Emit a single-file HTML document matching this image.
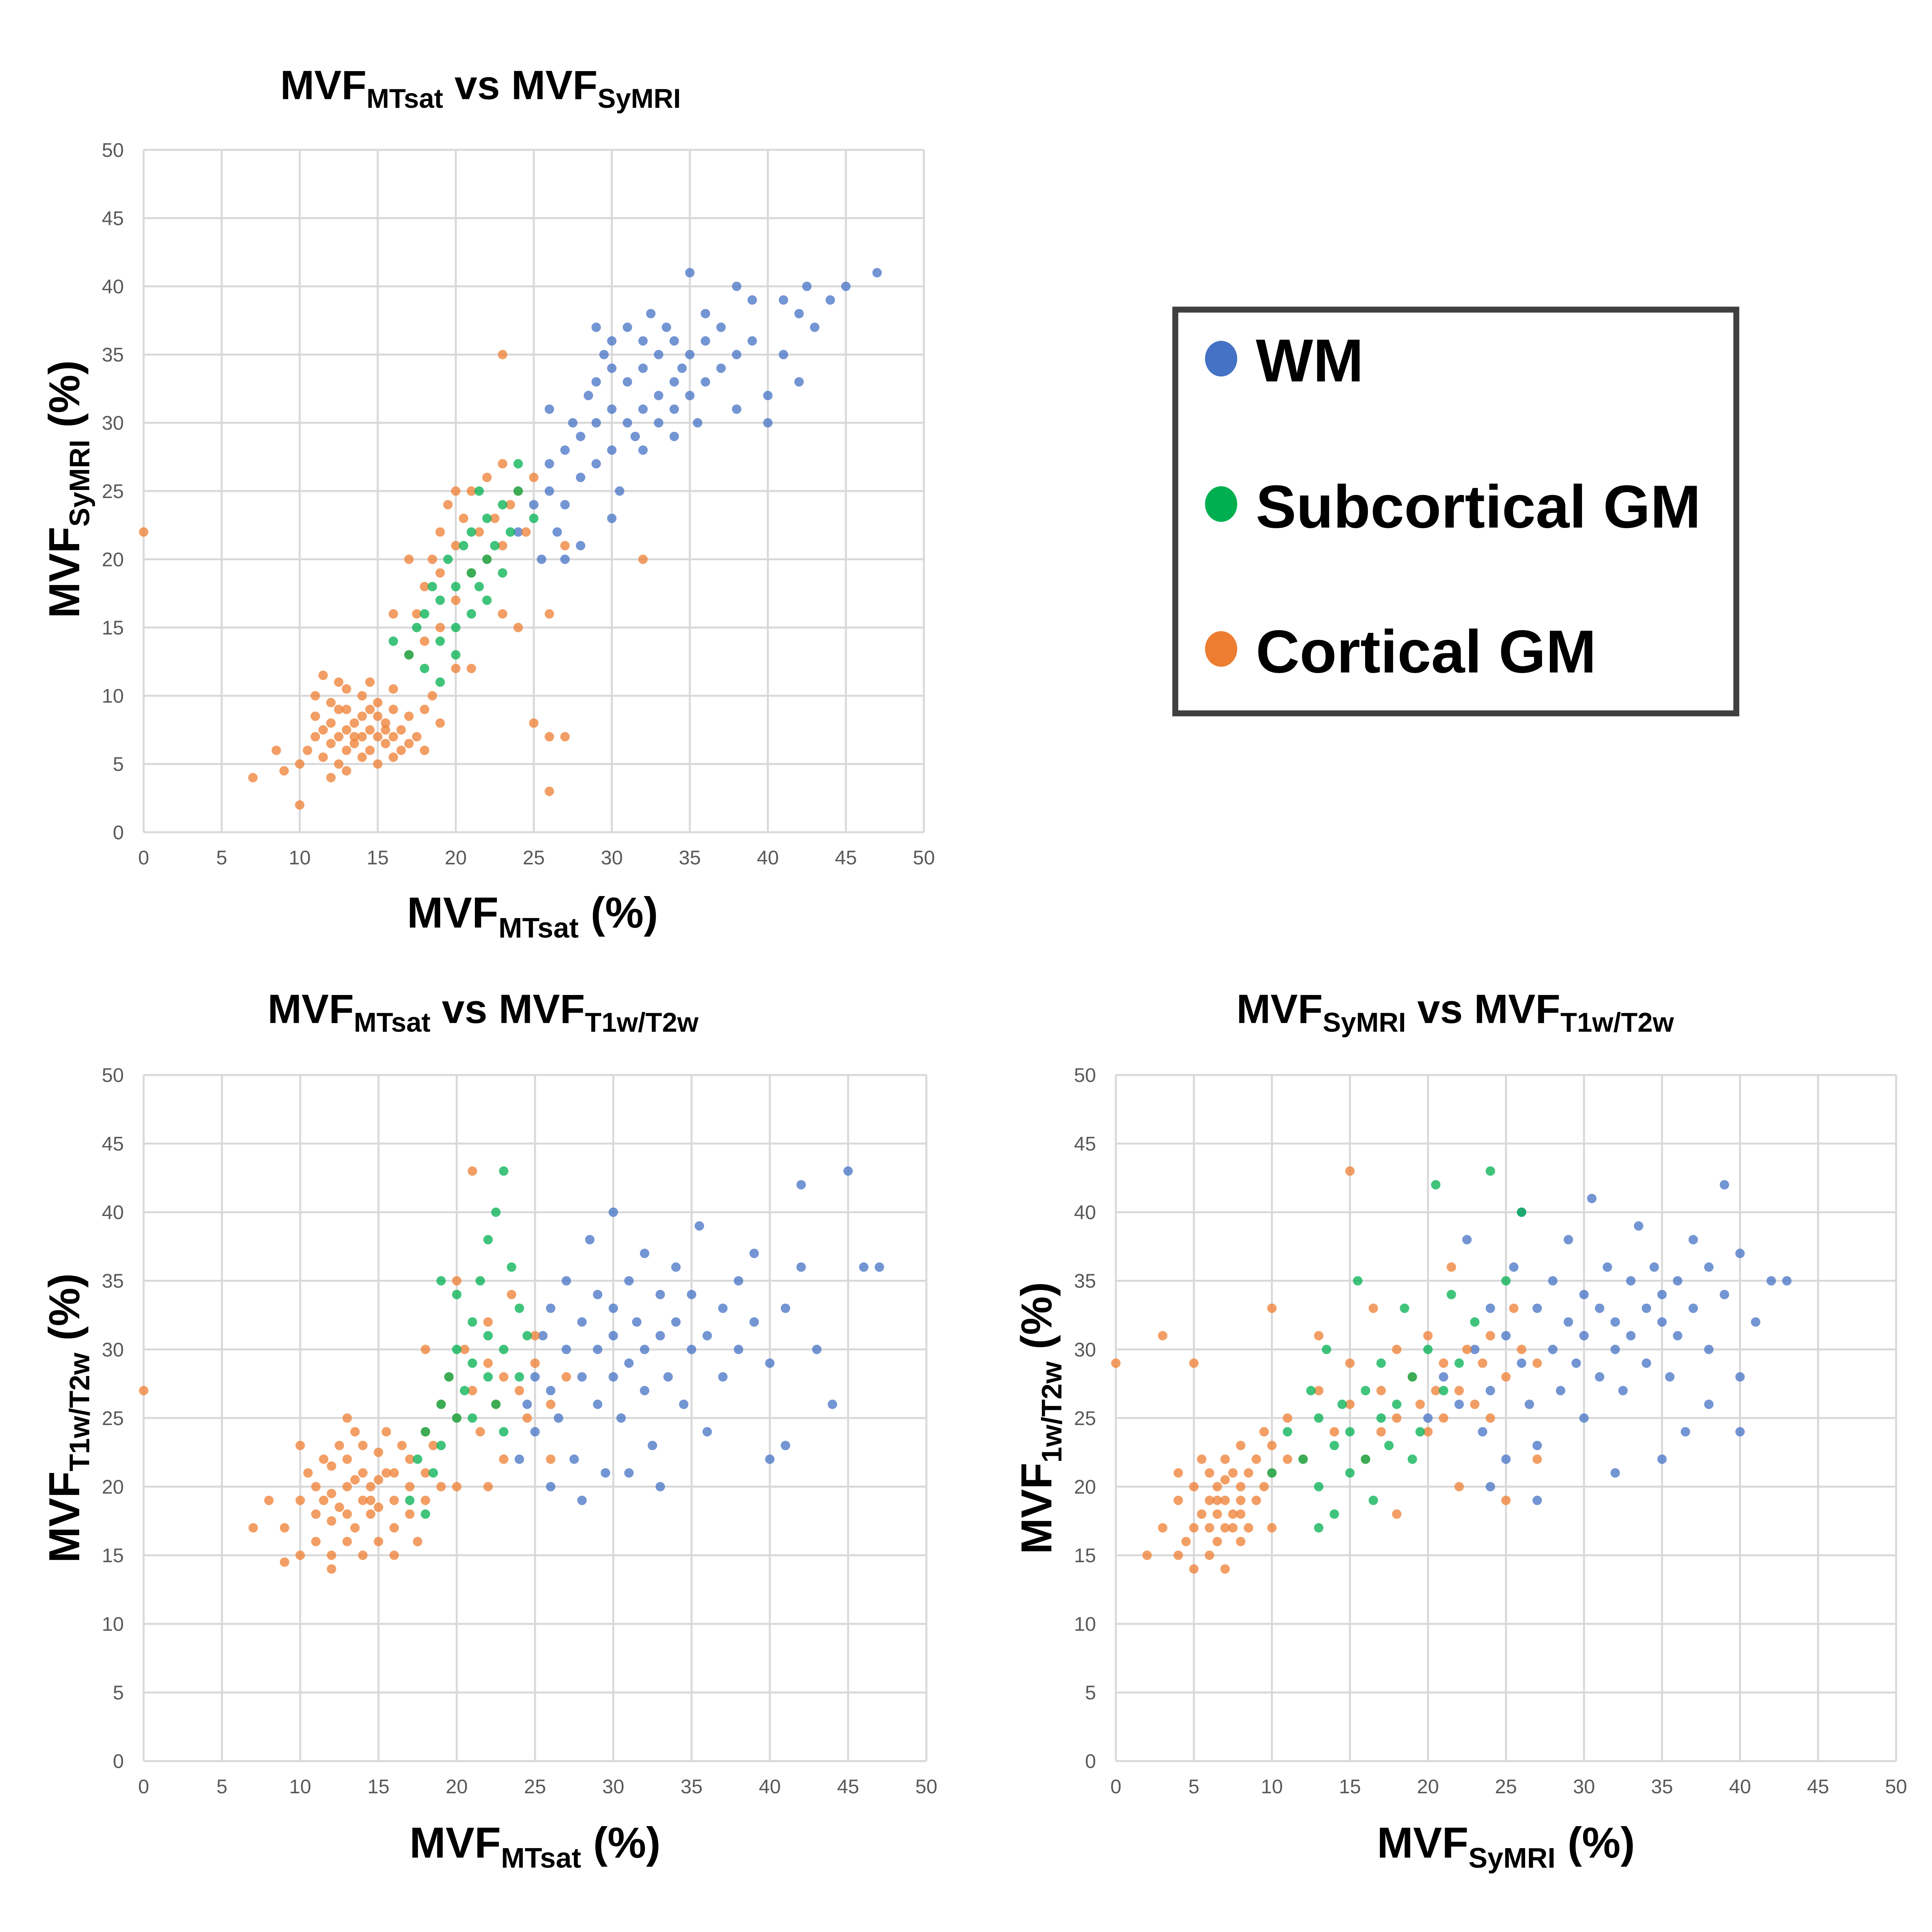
<!DOCTYPE html>
<html><head><meta charset="utf-8"><style>
html,body{margin:0;padding:0;background:#fff;width:100%;height:100%;overflow:hidden;}
svg{display:block;font-family:"Liberation Sans",sans-serif;width:100vw;height:100vh;}
.tick{font-size:80px;fill:#595959;}
.ttl{font-size:165px;font-weight:bold;fill:#000;}
.sub{font-size:110px;}
</style></head><body>
<svg id="fig" viewBox="0 0 7800 7800" preserveAspectRatio="none">
<g id="c1"></g>
<g id="c2"></g>
<g id="c3"></g>

<text class="ttl" x="1940" y="400" text-anchor="middle">MVF<tspan class="sub" dy="35">MTsat</tspan><tspan dy="-35"> vs MVF</tspan><tspan class="sub" dy="35">SyMRI</tspan></text>
<text class="ttl" x="1950" y="4130" text-anchor="middle">MVF<tspan class="sub" dy="35">MTsat</tspan><tspan dy="-35"> vs MVF</tspan><tspan class="sub" dy="35">T1w/T2w</tspan></text>
<text class="ttl" x="5875" y="4130" text-anchor="middle">MVF<tspan class="sub" dy="35">SyMRI</tspan><tspan dy="-35"> vs MVF</tspan><tspan class="sub" dy="35">T1w/T2w</tspan></text>

<text class="ttl" x="2150" y="3745" text-anchor="middle" style="font-size:175px">MVF<tspan class="sub" dy="40" style="font-size:115px">MTsat</tspan><tspan dy="-40"> (%)</tspan></text>
<text class="ttl" x="2160" y="7500" text-anchor="middle" style="font-size:175px">MVF<tspan class="sub" dy="40" style="font-size:115px">MTsat</tspan><tspan dy="-40"> (%)</tspan></text>
<text class="ttl" x="6080" y="7500" text-anchor="middle" style="font-size:175px">MVF<tspan class="sub" dy="40" style="font-size:115px">SyMRI</tspan><tspan dy="-40"> (%)</tspan></text>

<text class="ttl" transform="translate(320,1975) rotate(-90)" text-anchor="middle" style="font-size:175px">MVF<tspan class="sub" dy="40" style="font-size:115px">SyMRI</tspan><tspan dy="-40"> (%)</tspan></text>
<text class="ttl" transform="translate(320,5725) rotate(-90)" text-anchor="middle" style="font-size:175px">MVF<tspan class="sub" dy="40" style="font-size:115px">T1w/T2w</tspan><tspan dy="-40"> (%)</tspan></text>
<text class="ttl" transform="translate(4245,5725) rotate(-90)" text-anchor="middle" style="font-size:175px">MVF<tspan class="sub" dy="40" style="font-size:115px">1w/T2w</tspan><tspan dy="-40"> (%)</tspan></text>

<g>
<rect x="4745" y="1250" width="2265" height="1630" fill="#fff" stroke="#404040" stroke-width="24"/>
<g><ellipse cx="4930" cy="1448" rx="65" ry="72" fill="#4472C4"/><text x="5070" y="1540" style="font-size:245px;font-weight:bold">WM</text></g>
<g><ellipse cx="4930" cy="2035" rx="65" ry="72" fill="#00B050"/><text x="5070" y="2130" style="font-size:245px;font-weight:bold">Subcortical GM</text></g>
<g><ellipse cx="4930" cy="2620" rx="65" ry="72" fill="#ED7D31"/><text x="5070" y="2715" style="font-size:245px;font-weight:bold">Cortical GM</text></g>
</g>
</svg>
<script>
const ticks=[0,5,10,15,20,25,30,35,40,45,50];
// Plot 1: MTsat (x) vs SyMRI (y)
const p1Cortical=[[10,5],[10.5,6],[11,7],[11,8.5],[11.5,5.5],[12,6.5],[12,8],[12,9.5],[12.5,7],[12.5,5],[13,6],[13,7.5],[13,9],[13,10.5],[13.5,8],[13.5,6.5],[14,5.5],[14,7],[14,8.5],[14,10],[14.5,7.5],[14.5,6],[15,5],[15,7],[15,8.5],[15,9.5],[15.5,6.5],[15.5,8],[16,5.5],[16,7],[16,9],[16.5,7.5],[17,6.5],[17,8.5],[17.5,7],[18,9],[18,6],[11,10],[9,4.5],[8.5,6],[12,4],[10,2],[7,4],[11.5,11.5],[13,4.5],[16,10.5],[19,8],[18.5,10],[14.5,11],[12.5,11],[12.5,9],[13.5,7],[14.5,9],[15.5,7.5],[16.5,6],[11.5,7.5],[17,13],[17.5,16],[18,18],[18.5,20],[19,22],[19.5,24],[20,21],[20,17],[20.5,23],[21,25],[21,19],[21.5,22],[22,26],[22,20],[22.5,23],[23,27],[23,21],[23.5,24],[24,25],[24.5,22],[25,26],[18,14],[19,15],[19,19],[20,25],[16,16],[17,20],[23,35],[25,8],[26,7],[26,3],[27,7],[32,20],[27,21],[21,12],[0,22],[23,16],[20,12],[26,16],[24,15]];
const p1Subcortical=[[16,14],[17,13],[17.5,15],[18,12],[18,16],[18.5,18],[19,14],[19,17],[19.5,20],[20,15],[20,18],[20.5,21],[21,16],[21,19],[21,22],[21.5,18],[22,20],[22,23],[22.5,21],[23,24],[23,19],[23.5,22],[24,25],[24,27],[20,13],[22,17],[19,11],[25,23],[21.5,25]];
const p1WM=[[24,22],[25,24],[25.5,20],[26,25],[26,27],[26.5,22],[27,28],[27,24],[27.5,30],[28,26],[28,29],[28.5,32],[29,27],[29,30],[29,33],[29.5,35],[30,28],[30,31],[30,34],[30,36],[30.5,25],[31,30],[31,33],[31,37],[31.5,29],[32,31],[32,34],[32,36],[32.5,38],[33,30],[33,32],[33,35],[33.5,37],[34,31],[34,33],[34,36],[34.5,34],[35,32],[35,35],[35.5,30],[36,33],[36,36],[37,34],[37,37],[38,35],[38,31],[39,36],[40,32],[40,30],[41,39],[42,38],[42.5,40],[43,37],[44,39],[45,40],[47,41],[42,33],[39,39],[36,38],[35,41],[28,21],[27,20],[30,23],[29,37],[32,28],[34,29],[38,40],[41,35],[26,31]];
// Plot 2: MTsat (x) vs T1w/T2w (y)
const p2Cortical=[[9,17],[10,15],[10,19],[10.5,21],[11,16],[11,18],[11,20],[11.5,22],[12,15],[12,17.5],[12,19.5],[12,21.5],[12.5,23],[13,16],[13,18],[13,20],[13,22],[13.5,24],[13.5,17],[14,15],[14,19],[14,21],[14,23],[14.5,18],[14.5,20],[15,16],[15,18.5],[15,20.5],[15,22.5],[15.5,24],[16,17],[16,19],[16,21],[16.5,23],[17,18],[17,20],[17,22],[17.5,16],[18,19],[18,21],[18.5,23],[19,20],[10,23],[9,14.5],[12,14],[16,15],[13,25],[7,17],[8,19],[12.5,18.5],[13.5,20.5],[14.5,19],[15.5,21],[11.5,19],[18,24],[19,26],[19.5,28],[20,25],[20.5,30],[21,27],[21.5,24],[22,29],[22,32],[22.5,26],[23,28],[23.5,34],[24,27],[24.5,25],[25,29],[25,31],[26,26],[27,28],[20,35],[21,43],[23,22],[0,27],[20,20],[22,20],[26,22],[18,30]];
const p2Subcortical=[[17,19],[17.5,22],[18,24],[18.5,21],[19,26],[19,23],[19.5,28],[20,25],[20,30],[20.5,27],[21,32],[21,29],[21,25],[21.5,35],[22,28],[22,31],[22.5,40],[22.5,26],[23,43],[23,30],[23.5,36],[24,28],[24,33],[24.5,31],[20,34],[19,35],[22,38],[18,18],[23,24]];
const p2WM=[[24,22],[24.5,26],[25,28],[25,24],[25.5,31],[26,27],[26,33],[26.5,25],[27,30],[27,35],[27.5,22],[28,28],[28,32],[28.5,38],[29,26],[29,30],[29,34],[29.5,21],[30,28],[30,31],[30,33],[30,40],[30.5,25],[31,29],[31,35],[31.5,32],[32,27],[32,30],[32,37],[32.5,23],[33,31],[33,34],[33.5,28],[34,32],[34,36],[34.5,26],[35,30],[35,34],[35.5,39],[36,31],[36,24],[37,33],[37,28],[38,35],[38,30],[39,37],[39,32],[40,29],[40,22],[41,33],[42,42],[42,36],[43,30],[44,26],[45,43],[46,36],[47,36],[28,19],[31,21],[33,20],[41,23],[26,20]];
// Plot 3: SyMRI (x) vs T1w/T2w (y)
const p3Cortical=[[3,17],[4,15],[4,19],[4.5,16],[5,14],[5,17],[5,20],[5.5,18],[5.5,22],[6,15],[6,17],[6,19],[6,21],[6.5,16],[6.5,18],[6.5,20],[7,14],[7,17],[7,19],[7,22],[7.5,18],[7.5,21],[8,16],[8,19],[8,20],[8,23],[8.5,17],[8.5,21],[9,19],[9,22],[9.5,20],[9.5,24],[10,21],[10,23],[2,15],[3,31],[5,29],[0,29],[4,21],[10,17],[11,22],[6.5,19],[7.5,17],[7,20.5],[8,18],[11,25],[12,22],[13,27],[14,24],[15,29],[15,26],[16,22],[16.5,33],[17,27],[17,24],[18,30],[18,25],[19,28],[19.5,26],[20,24],[20,31],[20.5,27],[21,29],[21,25],[21.5,36],[22,27],[22.5,30],[23,26],[23.5,29],[24,25],[24,31],[25,28],[25.5,33],[26,30],[27,29],[15,43],[13,31],[22,20],[25,19],[18,18],[10,33],[27,22]];
const p3Subcortical=[[10,21],[11,24],[12,22],[12.5,27],[13,20],[13,25],[13.5,30],[14,23],[14,18],[14.5,26],[15,21],[15,24],[15.5,35],[16,22],[16,27],[16.5,19],[17,25],[17,29],[17.5,23],[18,26],[18.5,33],[19,28],[19.5,24],[20,30],[20.5,42],[21,27],[21.5,34],[22,29],[23,32],[24,43],[25,35],[26,40],[13,17],[19,22]];
const p3WM=[[20,25],[21,28],[22,26],[22.5,38],[23,30],[23.5,24],[24,33],[24,27],[25,31],[25,22],[25.5,36],[26,29],[26,40],[26.5,26],[27,33],[27,23],[28,30],[28,35],[28.5,27],[29,32],[29,38],[29.5,29],[30,25],[30,31],[30,34],[30.5,41],[31,28],[31,33],[31.5,36],[32,30],[32,32],[32,21],[32.5,27],[33,35],[33,31],[33.5,39],[34,29],[34,33],[34.5,36],[35,32],[35,34],[35.5,28],[36,31],[36,35],[36.5,24],[37,33],[37,38],[38,30],[38,36],[39,34],[39,42],[40,28],[40,37],[40,24],[41,32],[42,35],[43,35],[27,19],[35,22],[38,26],[24,20]];

const NS='http://www.w3.org/2000/svg';
function mk(tag,attrs,parent){const e=document.createElementNS(NS,tag);for(const k in attrs)e.setAttribute(k,attrs[k]);parent.appendChild(e);return e;}
const COLORS={wm:'#4472C4',sub:'#00B050',cort:'#ED7D31'};
function chart(gid,x0,x1,y0,y1,series){
  const g=document.getElementById(gid);
  const sx=v=>x0+(x1-x0)*v/50, sy=v=>y0-(y0-y1)*v/50;
  ticks.forEach(t=>{
    const gl=mk('line',{x1:sx(t),x2:sx(t),y1:sy(0),y2:sy(50),stroke:'#d9d9d9','stroke-width':8},g);
    
    
    const hl=mk('line',{x1:sx(0),x2:sx(50),y1:sy(t),y2:sy(t),stroke:'#d9d9d9','stroke-width':8},g);
    
    
    const xt=mk('text',{x:sx(t),y:y0+130,'text-anchor':'middle',class:'tick'},g);xt.textContent=t;
    
    
    const yt=mk('text',{x:x0-80,y:sy(t)+28,'text-anchor':'end',class:'tick'},g);yt.textContent=t;
    
    
  });
  series.forEach(([key,pts])=>{
    pts.forEach(p=>{
      const c=mk('circle',{cx:sx(p[0]),cy:sy(p[1]),r:19,fill:COLORS[key],'fill-opacity':0.75},g);
      
      
    });
  });
}
chart('c1',580,3730,3360,605,[['wm',p1WM],['cort',p1Cortical],['sub',p1Subcortical]]);
chart('c2',580,3740,7110,4340,[['wm',p2WM],['cort',p2Cortical],['sub',p2Subcortical]]);
chart('c3',4505,7655,7110,4340,[['wm',p3WM],['cort',p3Cortical],['sub',p3Subcortical]]);
</script>
</body></html>
